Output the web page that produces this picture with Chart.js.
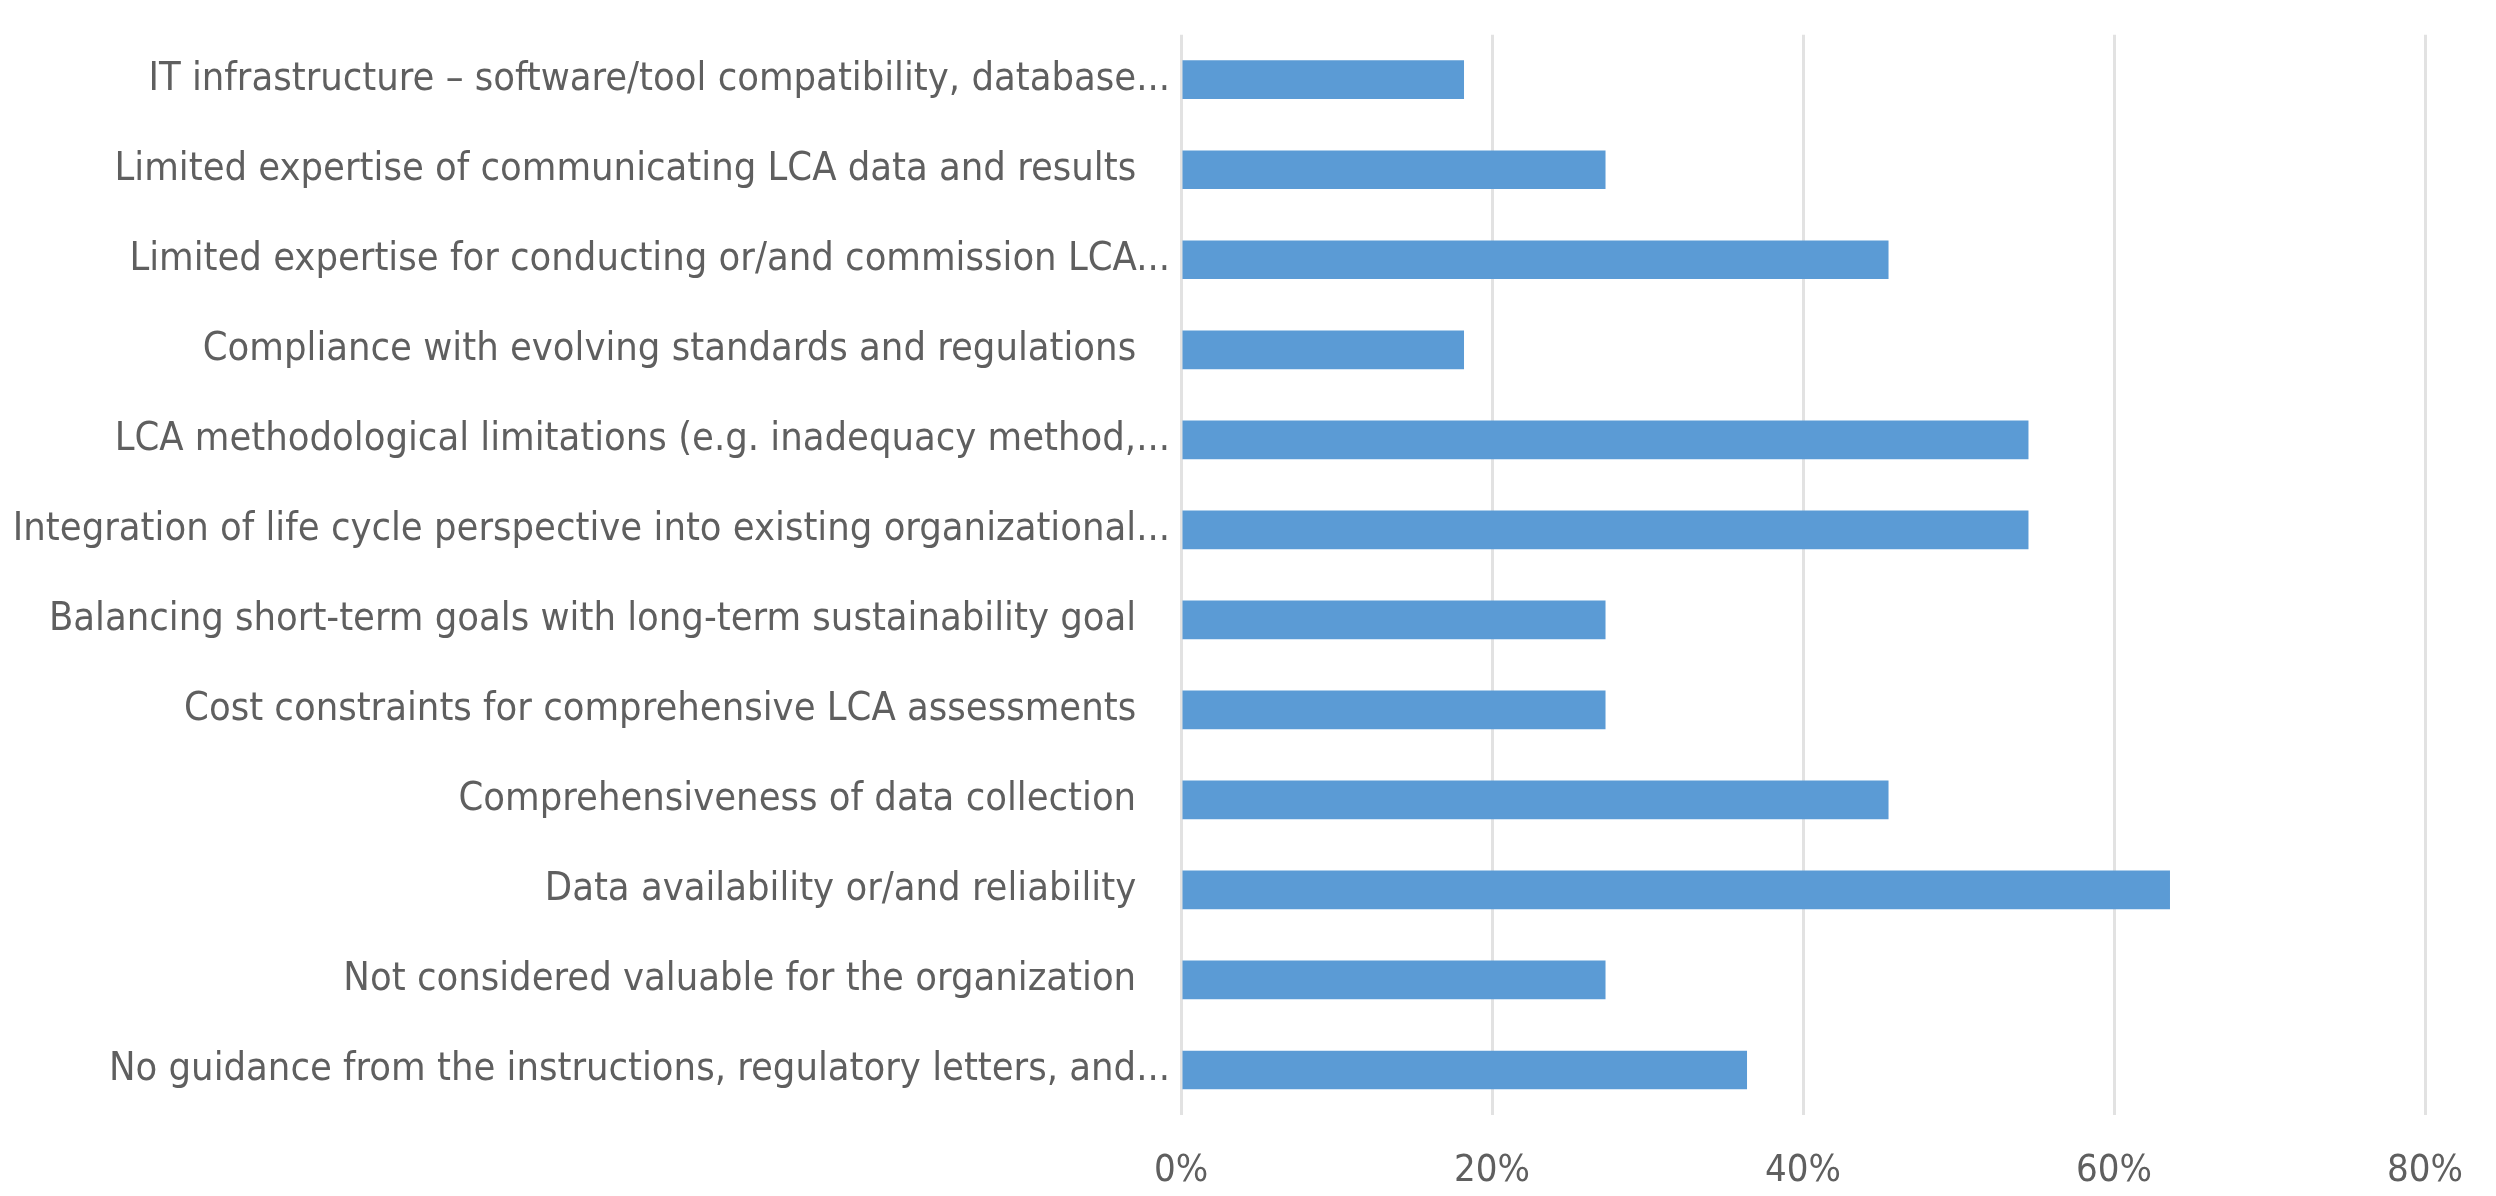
<!DOCTYPE html>
<html lang="en">
<head>
<meta charset="utf-8">
<title>LCA barriers</title>
<script src="https://cdn.jsdelivr.net/npm/chart.js@4.4.1/dist/chart.umd.min.js"></script>
<style>
  html, body { margin: 0; padding: 0; background: #ffffff; }
  .chart-box { width: 2496px; height: 1196px; position: relative; }
</style>
</head>
<body>
<div class="chart-box"><canvas id="barrierChart"></canvas></div>
<script>
const CATEGORIES = [
  "IT infrastructure \u2013 software/tool compatibility, database...",
  "Limited expertise of communicating LCA data and results",
  "Limited expertise for conducting or/and commission LCA...",
  "Compliance with evolving standards and regulations",
  "LCA methodological limitations (e.g. inadequacy method,...",
  "Integration of life cycle perspective into existing organizational...",
  "Balancing short-term goals with long-term sustainability goal",
  "Cost constraints for comprehensive LCA assessments",
  "Comprehensiveness of data collection",
  "Data availability or/and reliability",
  "Not considered valuable for the organization",
  "No guidance from the instructions, regulatory letters, and...",
];
const SHARES = [18.2, 27.3, 45.5, 18.2, 54.5, 54.5, 27.3, 27.3, 45.5, 63.6, 27.3, 36.4];
const X_TICKS = [0, 20, 40, 60, 80];

const BAR_COLOR = "#5b9bd5";
const TEXT_COLOR = "#5f5f5f";
const GRID_COLOR = "#e2e2e2";
const FONT_FAMILY = '"Liberation Sans Narrow", "DejaVu Sans Condensed", "Arial Narrow", sans-serif';

function createChart() {
  new Chart(document.getElementById("barrierChart"), {
    type: "bar",
    data: {
      labels: CATEGORIES,
      datasets: [
        {
          label: "Share of respondents",
          data: SHARES,
          backgroundColor: BAR_COLOR,
          borderWidth: 0,
          categoryPercentage: 1,
          barPercentage: 0.43,
        },
      ],
    },
    options: {
      indexAxis: "y",
      responsive: true,
      maintainAspectRatio: false,
      animation: false,
      layout: { padding: { top: 12, right: 58, bottom: 0, left: 0 } },
      plugins: {
        legend: { display: false },
        tooltip: { enabled: false },
      },
      scales: {
        x: {
          min: X_TICKS[0],
          max: X_TICKS[X_TICKS.length - 1],
          afterBuildTicks: (axis) => {
            axis.ticks = X_TICKS.map((value) => ({ value }));
          },
          afterFit: (axis) => {
            axis.height = 81;
          },
          grid: { color: GRID_COLOR, lineWidth: 3, drawTicks: false },
          border: { display: false },
          ticks: {
            padding: 33,
            color: TEXT_COLOR,
            font: { family: FONT_FAMILY, size: 38 },
            callback: (value) => `${value}%`,
          },
        },
        y: {
          afterFit: (axis) => {
            axis.width = 1181;
          },
          grid: { display: false, drawTicks: false },
          border: { display: false },
          ticks: {
            padding: 11,
            color: TEXT_COLOR,
            font: { family: FONT_FAMILY, size: 39.5 },
            autoSkip: false,
            callback: (value, index) => {
              const label = CATEGORIES[index];
              return label.endsWith("...") ? label : `${label}   `;
            },
          },
        },
      },
    },
  });
}

document.addEventListener("DOMContentLoaded", createChart);
</script>
</body>
</html>
